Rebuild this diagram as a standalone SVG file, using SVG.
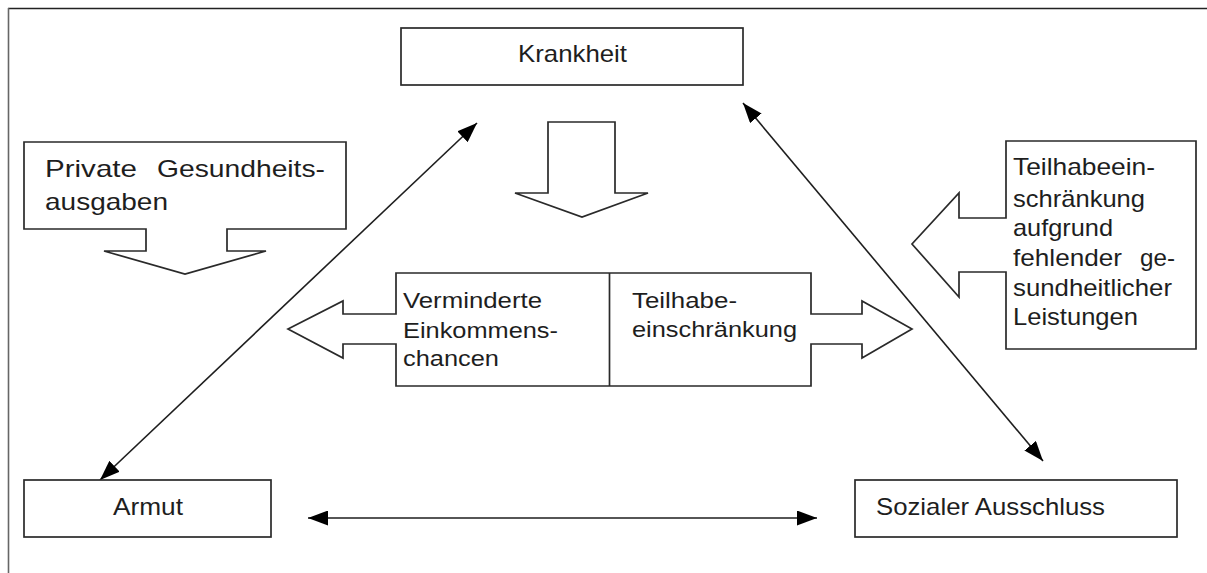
<svg xmlns="http://www.w3.org/2000/svg" width="1207" height="573" viewBox="0 0 1207 573">
<style>
.box{fill:#fff;stroke:#2a2a2a;stroke-width:1.7}
.t{font-family:"Liberation Sans",Arial,sans-serif;font-size:24px;fill:#1e1e1e}
.tm{font-family:"Liberation Sans",Arial,sans-serif;font-size:22px;fill:#1e1e1e}
.con{stroke:#1e1e1e;stroke-width:1.6;fill:none}
</style>
<defs>
<marker id="ah" viewBox="0 0 20 15" refX="20" refY="7.5" markerWidth="20" markerHeight="15" markerUnits="userSpaceOnUse" orient="auto-start-reverse">
<path d="M0,0 L20,7.5 L0,15 Z" fill="#000"/>
</marker>
</defs>
<rect width="1207" height="573" fill="#fff"/>
<g id="frame">
<line x1="8" y1="8.5" x2="1207" y2="8.5" stroke="#222" stroke-width="1.6"/>
<line x1="8.5" y1="8" x2="8.5" y2="573" stroke="#666" stroke-width="1.6"/>
</g>
<g id="connectors">
<line class="con" x1="100" y1="480" x2="477" y2="123" marker-start="url(#ah)" marker-end="url(#ah)"/>
<line class="con" x1="743" y1="103" x2="1043" y2="461" marker-start="url(#ah)" marker-end="url(#ah)"/>
<line class="con" x1="308" y1="518" x2="817" y2="518" marker-start="url(#ah)" marker-end="url(#ah)"/>
</g>
<g id="krankheit">
<rect class="box" x="401" y="28" width="342" height="57"/>
<text class="t" x="518" y="62" textLength="109" lengthAdjust="spacingAndGlyphs">Krankheit</text>
</g>
<g id="krankheit-arrow">
<path class="box" d="M548,122 H615 V193 H648 L582,217 L515,193 H548 Z"/>
</g>
<g id="private">
<path class="box" d="M24,142 H346 V229 H227 V251 H266 L185,274 L104,251 H146 V229 H24 Z"/>
<text class="t" x="45" y="177" textLength="92" lengthAdjust="spacingAndGlyphs">Private</text>
<text class="t" x="157" y="177" textLength="168" lengthAdjust="spacingAndGlyphs">Gesundheits-</text>
<text class="t" x="45" y="210" textLength="123" lengthAdjust="spacingAndGlyphs">ausgaben</text>
</g>
<g id="teilhabe-rechts">
<path class="box" d="M1006,141 H1196 V349 H1006 V272 H959 V297 L912,244 L959,193 V218 H1006 Z"/>
<text class="t" x="1013" y="175" textLength="142" lengthAdjust="spacingAndGlyphs">Teilhabeein-</text>
<text class="t" x="1013" y="207" textLength="132" lengthAdjust="spacingAndGlyphs">schränkung</text>
<text class="t" x="1013" y="236" textLength="100" lengthAdjust="spacingAndGlyphs">aufgrund</text>
<text class="t" x="1013" y="266" textLength="109" lengthAdjust="spacingAndGlyphs">fehlender</text>
<text class="t" x="1140" y="266" textLength="35" lengthAdjust="spacingAndGlyphs">ge-</text>
<text class="t" x="1013" y="296" textLength="159" lengthAdjust="spacingAndGlyphs">sundheitlicher</text>
<text class="t" x="1013" y="325" textLength="125" lengthAdjust="spacingAndGlyphs">Leistungen</text>
</g>
<g id="mitte">
<path class="box" d="M396,273 H811 V314 H862 V301 L912,329 L862,358 V344 H811 V386 H396 V344 H343 V358 L288,329 L343,301 V314 H396 Z"/>
<line x1="609.5" y1="273" x2="609.5" y2="386" stroke="#2a2a2a" stroke-width="1.7"/>
<text class="tm" x="403" y="308" textLength="139" lengthAdjust="spacingAndGlyphs">Verminderte</text>
<text class="tm" x="403" y="338" textLength="155" lengthAdjust="spacingAndGlyphs">Einkommens-</text>
<text class="tm" x="403" y="366" textLength="96" lengthAdjust="spacingAndGlyphs">chancen</text>
<text class="tm" x="632" y="308" textLength="105" lengthAdjust="spacingAndGlyphs">Teilhabe-</text>
<text class="tm" x="632" y="337" textLength="165" lengthAdjust="spacingAndGlyphs">einschränkung</text>
</g>
<g id="armut">
<rect class="box" x="24" y="480" width="247" height="57"/>
<text class="t" x="113" y="515" textLength="70" lengthAdjust="spacingAndGlyphs">Armut</text>
</g>
<g id="ausschluss">
<rect class="box" x="855" y="480" width="322" height="57"/>
<text class="t" x="876" y="515" textLength="229" lengthAdjust="spacingAndGlyphs">Sozialer Ausschluss</text>
</g>
</svg>
